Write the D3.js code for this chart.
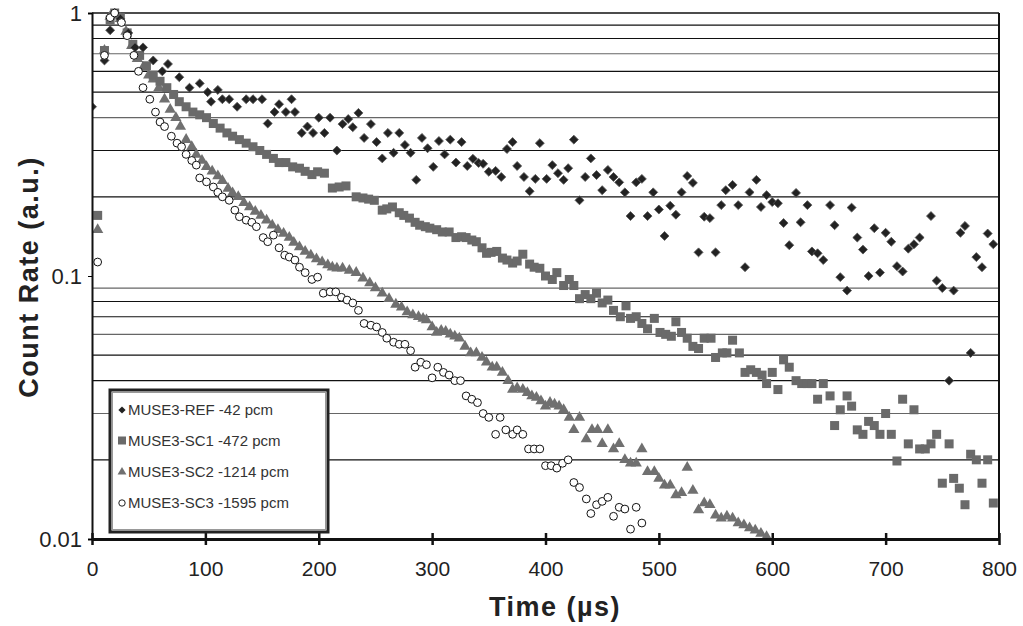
<!DOCTYPE html>
<html>
<head>
<meta charset="utf-8">
<script src="https://cdn.jsdelivr.net/npm/d3@7"></script>
<style>
body { margin: 0; background: #fff; }
text { font-family: "Liberation Sans", Arial, sans-serif; }
</style>
</head>
<body>
<script>
// time (us), count rate (a.u.)
var refData = [[0,0.44],[11,0.66],[16,0.86],[20,1.0],[25,0.95],[32,0.84],[38,0.74],[45,0.74],[54,0.66],[62,0.6],[67,0.64],[77,0.57],[86,0.52],[95,0.54],[102,0.5],[105,0.46],[111,0.51],[115,0.47],[121,0.47],[128,0.44],[136,0.47],[142,0.47],[150,0.47],[155,0.38],[161,0.42],[165,0.45],[171,0.42],[176,0.47],[179,0.42],[185,0.35],[190,0.37],[195,0.35],[200,0.40],[205,0.35],[210,0.40],[216,0.30],[221,0.378],[226,0.395],[230,0.368],[235,0.417],[240,0.335],[246,0.378],[251,0.323],[256,0.28],[261,0.35],[266,0.294],[271,0.35],[276,0.315],[281,0.294],[286,0.232],[291,0.335],[296,0.306],[301,0.26],[306,0.326],[311,0.29],[316,0.33],[321,0.27],[326,0.323],[331,0.262],[336,0.279],[341,0.269],[345,0.267],[350,0.249],[356,0.251],[361,0.238],[366,0.304],[371,0.323],[375,0.262],[381,0.238],[386,0.21],[391,0.234],[395,0.32],[401,0.234],[406,0.264],[411,0.246],[416,0.232],[420,0.257],[425,0.33],[430,0.194],[435,0.238],[440,0.28],[445,0.242],[450,0.212],[455,0.253],[460,0.238],[465,0.227],[470,0.208],[475,0.169],[480,0.227],[485,0.234],[490,0.169],[495,0.208],[500,0.179],[505,0.142],[510,0.185],[515,0.171],[520,0.208],[525,0.24],[530,0.226],[535,0.123],[540,0.168],[545,0.166],[550,0.123],[555,0.186],[559,0.212],[565,0.222],[570,0.186],[576,0.108],[580,0.208],[586,0.232],[590,0.183],[595,0.203],[600,0.191],[605,0.189],[610,0.159],[615,0.131],[621,0.207],[625,0.16],[631,0.186],[635,0.124],[640,0.122],[645,0.115],[651,0.186],[655,0.156],[660,0.099],[666,0.088],[670,0.182],[675,0.14],[680,0.126],[685,0.1],[690,0.152],[695,0.103],[700,0.146],[705,0.135],[710,0.109],[715,0.104],[720,0.127],[725,0.132],[730,0.14],[740,0.169],[745,0.096],[750,0.09],[756,0.04],[760,0.088],[766,0.146],[770,0.155],[775,0.051],[780,0.118],[785,0.108],[790,0.145],[795,0.132]];

var sc1Data = [[5,0.17],[11,0.72],[16,0.94],[20,1.0],[25,0.96],[31,0.84],[36,0.76],[42,0.69],[48,0.63],[54,0.58],[60,0.55],[66,0.52],[72,0.49],[77,0.46],[83,0.44],[89,0.42],[95,0.41],[101,0.40],[107,0.38],[113,0.365],[119,0.35],[124,0.34],[130,0.33],[136,0.32],[142,0.31],[148,0.30],[154,0.29],[160,0.28],[165,0.27],[171,0.27],[177,0.26],[183,0.257],[188,0.25],[194,0.243],[199,0.249],[205,0.246],[212,0.216],[218,0.218],[224,0.22],[233,0.2],[239,0.198],[244,0.196],[249,0.194],[256,0.178],[260,0.18],[265,0.183],[271,0.174],[275,0.17],[280,0.166],[285,0.16],[289,0.156],[294,0.154],[298,0.152],[304,0.15],[309,0.147],[315,0.147],[321,0.14],[326,0.141],[330,0.14],[335,0.137],[339,0.135],[344,0.128],[348,0.122],[352,0.123],[357,0.124],[362,0.117],[366,0.115],[371,0.112],[375,0.114],[380,0.121],[386,0.111],[390,0.108],[395,0.107],[400,0.1],[406,0.097],[410,0.103],[416,0.092],[421,0.097],[425,0.092],[430,0.082],[435,0.085],[440,0.082],[445,0.086],[450,0.079],[455,0.081],[460,0.074],[466,0.07],[471,0.077],[475,0.069],[480,0.07],[485,0.066],[490,0.063],[496,0.069],[501,0.061],[506,0.06],[511,0.059],[515,0.067],[520,0.061],[525,0.058],[530,0.054],[535,0.053],[540,0.058],[546,0.058],[550,0.049],[556,0.051],[560,0.051],[565,0.057],[571,0.051],[576,0.043],[581,0.044],[586,0.043],[591,0.042],[595,0.039],[600,0.043],[605,0.037],[610,0.048],[615,0.045],[621,0.04],[626,0.039],[631,0.039],[635,0.039],[640,0.034],[645,0.039],[651,0.035],[655,0.027],[660,0.031],[666,0.035],[670,0.032],[675,0.026],[680,0.025],[685,0.028],[690,0.027],[695,0.025],[700,0.03],[705,0.025],[710,0.0198],[715,0.034],[720,0.023],[725,0.031],[730,0.022],[735,0.022],[740,0.023],[745,0.025],[750,0.0163],[756,0.023],[760,0.017],[765,0.0156],[770,0.0135],[775,0.021],[780,0.02],[785,0.0163],[790,0.02],[795,0.0137]];

var sc2Data = [[5,0.15],[11,0.72],[16,0.97],[20,0.98],[25,0.95],[30,0.85],[35,0.75],[40,0.67],[45,0.62],[50,0.58],[54,0.56],[59,0.52],[64,0.47],[69,0.43],[74,0.40],[78,0.37],[83,0.33],[88,0.31],[92,0.29],[97,0.275],[101,0.26],[106,0.25],[111,0.24],[115,0.23],[120,0.215],[124,0.207],[129,0.2],[134,0.19],[139,0.183],[144,0.176],[149,0.17],[154,0.163],[159,0.156],[164,0.15],[169,0.145],[174,0.14],[178,0.134],[183,0.129],[188,0.124],[193,0.12],[198,0.116],[203,0.113],[208,0.11],[212,0.108],[216,0.107],[221,0.107],[227,0.105],[233,0.103],[239,0.098],[245,0.094],[250,0.09],[256,0.086],[262,0.082],[268,0.078],[273,0.076],[278,0.073],[283,0.071],[288,0.07],[292,0.069],[295,0.068],[300,0.064],[304,0.061],[308,0.062],[312,0.0615],[316,0.06],[320,0.059],[324,0.058],[329,0.054],[334,0.051],[339,0.051],[344,0.049],[348,0.047],[353,0.045],[357,0.045],[362,0.043],[367,0.04],[371,0.037],[375,0.0375],[380,0.037],[384,0.036],[388,0.035],[392,0.0345],[396,0.0335],[400,0.032],[404,0.033],[408,0.0325],[412,0.032],[416,0.031],[421,0.029],[425,0.026],[430,0.029],[436,0.024],[441,0.026],[446,0.026],[450,0.023],[455,0.026],[460,0.022],[465,0.023],[470,0.02],[475,0.0194],[480,0.0194],[485,0.022],[490,0.018],[496,0.018],[500,0.017],[505,0.016],[510,0.016],[515,0.0147],[520,0.015],[525,0.0187],[530,0.0153],[535,0.0129],[540,0.0137],[545,0.0135],[550,0.0123],[555,0.012],[560,0.0122],[565,0.012],[570,0.0115],[575,0.0113],[580,0.011],[585,0.0108],[590,0.0105],[595,0.0102]];

var sc3Data = [[5,0.113],[11,0.69],[16,0.96],[20,1.0],[26,0.92],[31,0.82],[37,0.69],[41,0.6],[45,0.52],[51,0.47],[56,0.42],[60,0.385],[64,0.37],[70,0.34],[75,0.32],[79,0.31],[83,0.29],[88,0.275],[92,0.264],[95,0.236],[101,0.228],[107,0.218],[111,0.208],[115,0.2],[121,0.194],[126,0.178],[130,0.168],[136,0.163],[141,0.16],[145,0.154],[151,0.14],[155,0.135],[160,0.143],[165,0.128],[170,0.12],[174,0.118],[179,0.115],[183,0.108],[188,0.103],[194,0.097],[199,0.099],[204,0.086],[210,0.087],[215,0.087],[220,0.083],[225,0.081],[230,0.079],[235,0.074],[240,0.066],[246,0.065],[251,0.064],[256,0.061],[260,0.058],[266,0.056],[271,0.055],[276,0.055],[281,0.052],[285,0.045],[290,0.047],[295,0.046],[300,0.041],[305,0.045],[310,0.043],[315,0.042],[320,0.04],[325,0.04],[330,0.035],[335,0.034],[340,0.033],[345,0.03],[350,0.029],[356,0.025],[360,0.029],[365,0.026],[371,0.025],[375,0.026],[380,0.025],[385,0.022],[390,0.022],[395,0.022],[400,0.019],[405,0.019],[410,0.0186],[415,0.0194],[420,0.02],[425,0.0164],[430,0.0157],[436,0.0142],[440,0.0125],[445,0.0135],[450,0.0139],[455,0.0144],[460,0.0122],[465,0.0132],[470,0.013],[475,0.0109],[480,0.0132],[485,0.0115]];

var legendLabels = ["MUSE3-REF -42 pcm", "MUSE3-SC1 -472 pcm", "MUSE3-SC2 -1214 pcm", "MUSE3-SC3 -1595 pcm"];
var xTicks = [0, 100, 200, 300, 400, 500, 600, 700, 800];
var yTicks = [1, 0.1, 0.01];
var gridVals = [0.02,0.03,0.04,0.05,0.06,0.07,0.08,0.09,0.2,0.3,0.4,0.5,0.6,0.7,0.8,0.9];

var W = 1023, H = 626;
var mLeft = 92, mRight = 999, mTop = 13, mBottom = 539;

var svg = d3.select("body").append("svg").attr("width", W).attr("height", H);

var x = d3.scaleLinear().domain([0, 800]).range([mLeft, mRight]);
var y = d3.scaleLog().domain([0.01, 1]).range([mBottom, mTop]);

svg.append("clipPath").attr("id", "clip")
	.append("rect").attr("x", mLeft).attr("y", mTop - 6).attr("width", mRight - mLeft).attr("height", mBottom - mTop + 6);

// gridlines
svg.selectAll("line.grid")
	.data(gridVals)
	.enter()
	.append("line")
	.attr("x1", mLeft).attr("x2", mRight)
	.attr("y1", function(d){ return y(d); })
	.attr("y2", function(d){ return y(d); })
	.attr("stroke", function(d, i){ return i % 3 == 1 ? "#666" : "#111"; })
	.attr("stroke-width", 1.2);

// frame
svg.append("line").attr("x1", mLeft).attr("x2", mRight).attr("y1", y(1)).attr("y2", y(1)).attr("stroke", "#111").attr("stroke-width", 1.5);
svg.append("line").attr("x1", mRight).attr("x2", mRight).attr("y1", mTop).attr("y2", mBottom).attr("stroke", "#111").attr("stroke-width", 2);

var pts = svg.append("g").attr("clip-path", "url(#clip)");

var diamond = d3.symbol().type(d3.symbolSquare).size(40);
var tri = d3.symbol().type(d3.symbolTriangle).size(55);

pts.selectAll("path.sc2").data(sc2Data).enter().append("path")
	.attr("d", tri)
	.attr("transform", function(d){ return "translate(" + x(d[0]) + "," + y(d[1]) + ")"; })
	.attr("fill", "#707070");

pts.selectAll("rect.sc1").data(sc1Data).enter().append("rect")
	.attr("x", function(d){ return x(d[0]) - 4.5; })
	.attr("y", function(d){ return y(d[1]) - 4.5; })
	.attr("width", 9).attr("height", 9)
	.attr("fill", "#6a6a6a");

pts.selectAll("path.ref").data(refData).enter().append("path")
	.attr("d", diamond)
	.attr("transform", function(d){ return "translate(" + x(d[0]) + "," + y(d[1]) + ") rotate(45)"; })
	.attr("fill", "#222").attr("stroke", "#555").attr("stroke-width", 0.8);

pts.selectAll("circle.sc3").data(sc3Data).enter().append("circle")
	.attr("cx", function(d){ return x(d[0]); })
	.attr("cy", function(d){ return y(d[1]); })
	.attr("r", 3.9)
	.attr("fill", "#fff").attr("stroke", "#111").attr("stroke-width", 1);

// axes
var xAxis = svg.append("g").attr("transform", "translate(0," + mBottom + ")")
	.call(d3.axisBottom(x).tickValues(xTicks).tickSize(0).tickPadding(22).tickFormat(d3.format("d")));
xAxis.select(".domain").attr("stroke", "#111").attr("stroke-width", 3);
xAxis.selectAll(".tick line").attr("y1", -6).attr("y2", 6).attr("stroke", "#111").attr("stroke-width", 2.5);
xAxis.selectAll("text").attr("font-size", 21).attr("fill", "#222").attr("font-family", "Liberation Sans, Arial");

var yAxis = svg.append("g").attr("transform", "translate(" + mLeft + ",0)")
	.call(d3.axisLeft(y).tickValues(yTicks).tickSize(4).tickPadding(6).tickFormat(function(d){ return d; }));
yAxis.select(".domain").attr("stroke", "#111").attr("stroke-width", 2);
yAxis.selectAll("text").attr("font-size", 22).attr("fill", "#222").attr("font-family", "Liberation Sans, Arial");

svg.append("text")
	.attr("x", 555).attr("y", 616)
	.attr("text-anchor", "middle")
	.attr("font-size", 27).attr("font-weight", "bold").attr("fill", "#222")
	.attr("letter-spacing", 1.5)
	.text("Time (\u00b5s)");

svg.append("text")
	.attr("transform", "translate(38,277) rotate(-90)")
	.attr("text-anchor", "middle")
	.attr("font-size", 27).attr("font-weight", "bold").attr("fill", "#222")
	.attr("letter-spacing", 1.5)
	.text("Count Rate (a.u.)");

// legend
var lg = svg.append("g");
lg.append("rect").attr("x", 110).attr("y", 390).attr("width", 218).attr("height", 142)
	.attr("fill", "#fff").attr("stroke", "#222").attr("stroke-width", 3);
lg.append("rect").attr("x", 112.5).attr("y", 392.5).attr("width", 213).attr("height", 137)
	.attr("fill", "none").attr("stroke", "#999").attr("stroke-width", 1);

var items = lg.selectAll("g.item").data(legendLabels).enter().append("g")
	.attr("transform", function(d, i){ return "translate(122," + (410 + i * 31) + ")"; });
items.append("text").attr("x", 6).attr("y", 5).attr("font-size", 15).attr("fill", "#333")
	.text(function(d){ return d; });
items.each(function(d, i){
	var g = d3.select(this);
	if (i == 0) g.append("path").attr("d", d3.symbol().type(d3.symbolSquare).size(26)).attr("transform", "rotate(45)").attr("fill", "#222");
	if (i == 1) g.append("rect").attr("x", -4).attr("y", -4.5).attr("width", 8).attr("height", 8).attr("fill", "#6a6a6a");
	if (i == 2) g.append("path").attr("d", d3.symbol().type(d3.symbolTriangle).size(34)).attr("fill", "#707070");
	if (i == 3) g.append("circle").attr("r", 3.2).attr("fill", "#fff").attr("stroke", "#222");
});
</script>
</body>
</html>
